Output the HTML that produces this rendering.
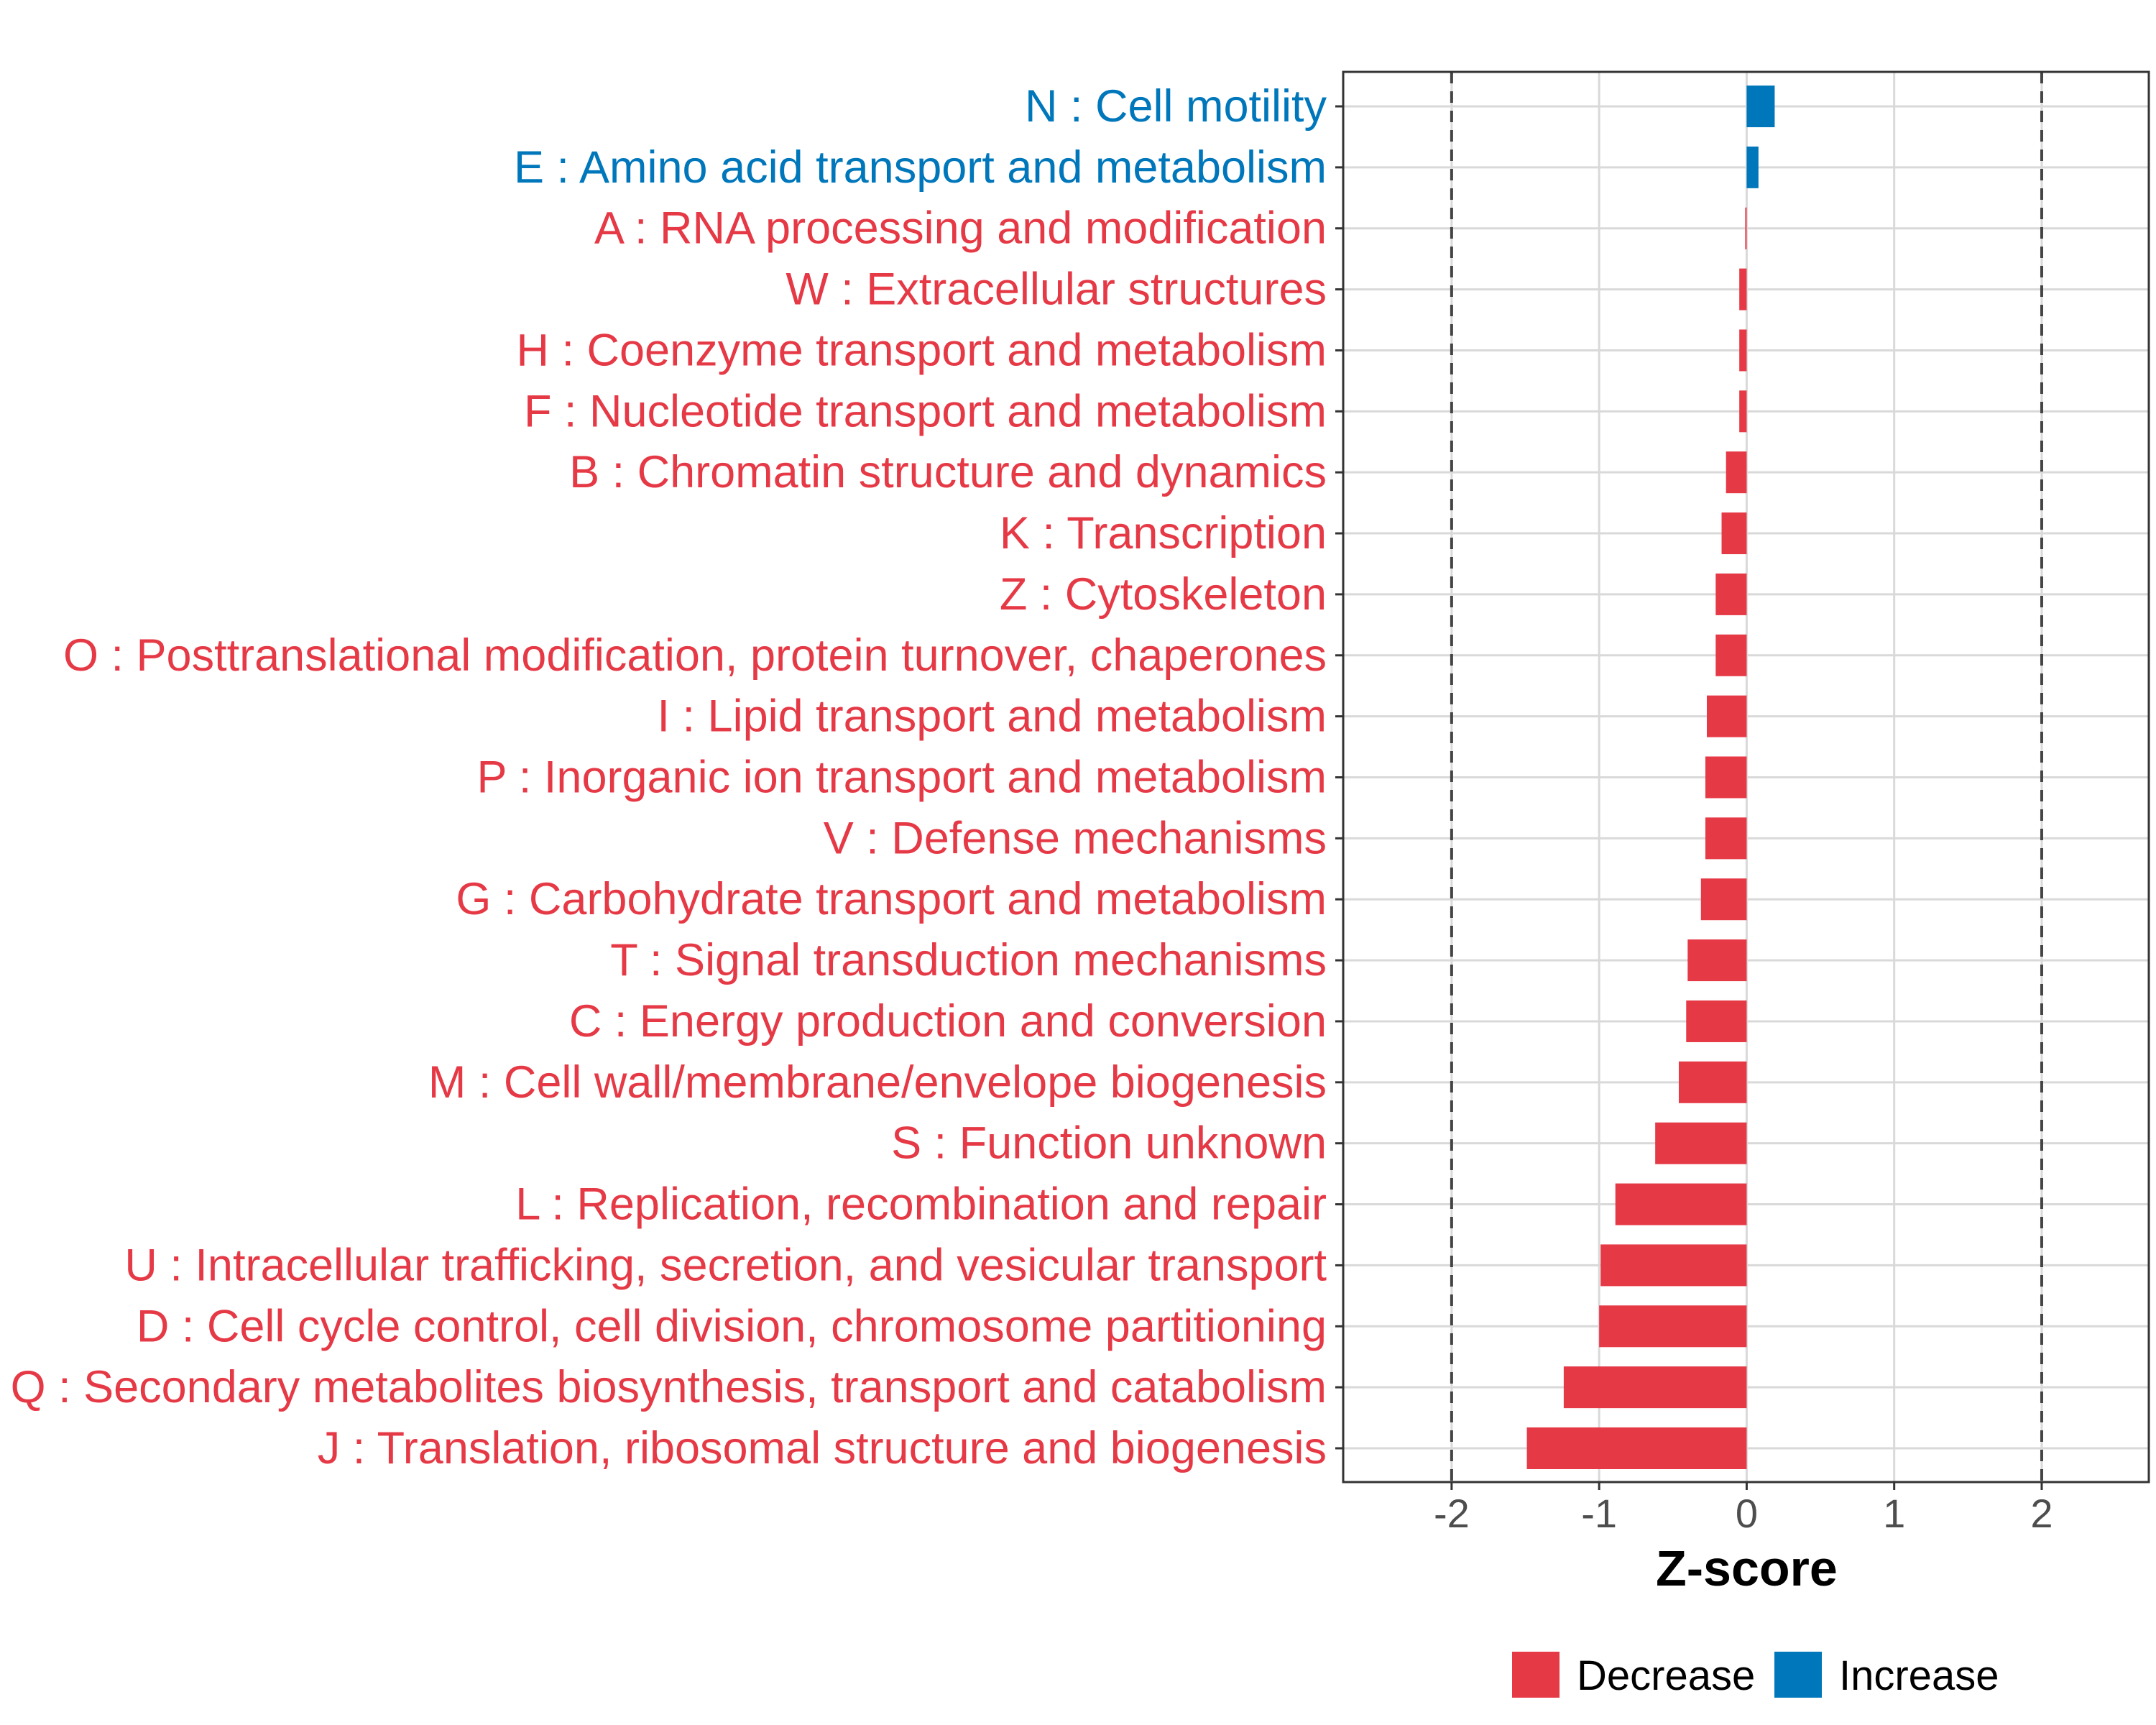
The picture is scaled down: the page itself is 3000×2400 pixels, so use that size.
<!DOCTYPE html>
<html><head><meta charset="utf-8"><style>body{margin:0;background:#fff}svg{display:block}</style></head>
<body>
<svg id="chart" width="3000" height="2400" xmlns="http://www.w3.org/2000/svg" font-family="Liberation Sans, Arial, sans-serif"></svg>
<script>
const categories = ["N : Cell motility","E : Amino acid transport and metabolism","A : RNA processing and modification","W : Extracellular structures","H : Coenzyme transport and metabolism","F : Nucleotide transport and metabolism","B : Chromatin structure and dynamics","K : Transcription","Z : Cytoskeleton","O : Posttranslational modification, protein turnover, chaperones","I : Lipid transport and metabolism","P : Inorganic ion transport and metabolism","V : Defense mechanisms","G : Carbohydrate transport and metabolism","T : Signal transduction mechanisms","C : Energy production and conversion","M : Cell wall/membrane/envelope biogenesis","S : Function unknown","L : Replication, recombination and repair","U : Intracellular trafficking, secretion, and vesicular transport","D : Cell cycle control, cell division, chromosome partitioning","Q : Secondary metabolites biosynthesis, transport and catabolism","J : Translation, ribosomal structure and biogenesis"];
const zscores = [0.19,0.08,-0.01,-0.05,-0.05,-0.05,-0.14,-0.17,-0.21,-0.21,-0.27,-0.28,-0.28,-0.31,-0.40,-0.41,-0.46,-0.62,-0.89,-0.99,-1.00,-1.24,-1.49];
const xTicks = [-2,-1,0,1,2];
const xTickLabels = ["-2","-1","0","1","2"];
const thresholds = [-2,2];

const NS="http://www.w3.org/2000/svg", svg=document.getElementById('chart');
const L=1869,R=2990,T=100,B=2062, xmin=-2.735, xmax=2.726;
const x=v=>L+(v-xmin)/(xmax-xmin)*(R-L);
const y0=148, step=(2015-148)/22, bh=58;
const y=i=>y0+i*step;
const RED="#E63946", BLUE="#0077BB";
function el(t,a,p){const e=document.createElementNS(NS,t);for(const k in a)e.setAttribute(k,a[k]);(p||svg).appendChild(e);return e;}
const grid=el('g',{});


xTicks.forEach(v=>{el('line',{x1:x(v),x2:x(v),y1:T,y2:B,stroke:'#d9d9d9','stroke-width':3},grid);});
categories.forEach((c,i)=>{el('line',{x1:L,x2:R,y1:y(i),y2:y(i),stroke:'#d9d9d9','stroke-width':3},grid);});
thresholds.forEach(v=>{const d=el('line',{x1:x(v),x2:x(v),y1:T,y2:B,stroke:'#444','stroke-width':4,'stroke-dasharray':'16,11'});

});
categories.forEach((c,i)=>{
 const v=zscores[i], col=v>=0?BLUE:RED;
 const r=el('rect',{x:Math.min(x(0),x(v)),y:y(i)-bh/2,width:Math.max(1,Math.abs(x(v)-x(0))),height:bh,fill:col});
 
 
 const t=el('text',{x:1846,y:y(i)+21,'text-anchor':'end','font-size':63,fill:col});
 t.textContent=c;
 
 
 el('line',{x1:L-11,x2:L,y1:y(i),y2:y(i),stroke:'#333','stroke-width':3});
});
const fr=el('rect',{x:L,y:T,width:R-L,height:B-T,fill:'none',stroke:'#333','stroke-width':3});


xTicks.forEach((v,i)=>{el('line',{x1:x(v),x2:x(v),y1:B,y2:B+11,stroke:'#333','stroke-width':3});
 const t=el('text',{x:x(v),y:B+63,'text-anchor':'middle','font-size':56,fill:'#4d4d4d'});t.textContent=xTickLabels[i];
 
 });
const xt=el('text',{x:x(0),y:2206,'text-anchor':'middle','font-size':70,'font-weight':'bold',fill:'#000'});xt.textContent='Z-score';


[[2104,RED,'Decrease'],[2469,BLUE,'Increase']].forEach(([lx,c,n])=>{
 const g=el('g',{});
 
 
 el('rect',{x:lx,y:2298,width:66,height:64,fill:c},g);
 const t=el('text',{x:lx+90,y:2351,'font-size':58,fill:'#000'},g);t.textContent=n;
});
</script>
</body></html>
